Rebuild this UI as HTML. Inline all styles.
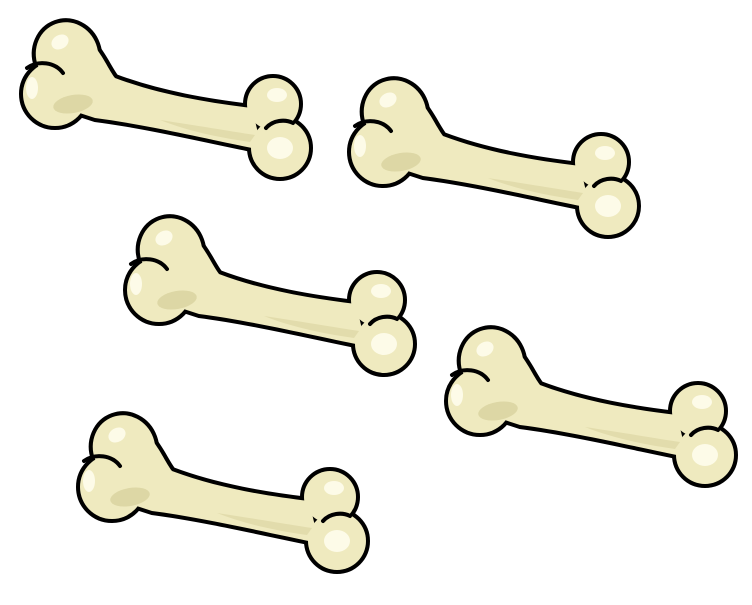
<!DOCTYPE html>
<html><head><meta charset="utf-8"><style>html,body{margin:0;padding:0;background:#fff;width:752px;height:605px;overflow:hidden}</style></head>
<body>
<svg width="752" height="605" viewBox="0 0 752 605">
<defs>
<g id="shape">
  <ellipse cx="67" cy="55" rx="31" ry="33" transform="rotate(-20 67 55)"/>
  <circle cx="55" cy="94" r="32"/>
  <path d="M70,30 C95,35 105,65 115,78 C160,95 210,103 252,108 L262,150 C220,142 150,125 95,118 L55,105 Z"/>
  <circle cx="273" cy="104" r="26"/>
  <circle cx="280" cy="148" r="29"/>
</g>
<g id="bone">
  <use href="#shape" fill="#000" stroke="#000" stroke-width="8" stroke-linejoin="round"/>
  <use href="#shape" fill="#efeabf"/>
  <ellipse cx="73" cy="104" rx="20" ry="9" fill="#ddd7a5" transform="rotate(-10 73 104)"/>
  <path d="M160,120 C200,126 235,132 255,135 L250,142 C215,137 185,130 160,120 Z" fill="#e2dcac"/>
  <path d="M27,68 C38,60 55,62 63,73" fill="none" stroke="#000" stroke-width="4" stroke-linecap="round"/>
  <path d="M266,128 C273,120 285,119 293,123" fill="none" stroke="#000" stroke-width="4" stroke-linecap="round"/>
  <ellipse cx="60" cy="42" rx="9" ry="7" fill="#fdfbe8" transform="rotate(-30 60 42)"/>
  <ellipse cx="32" cy="88" rx="6" ry="11" fill="#fdfbe8"/>
  <ellipse cx="277" cy="95" rx="10" ry="7" fill="#fdfbe8"/>
  <ellipse cx="280" cy="148" rx="13" ry="11" fill="#fdfbe8"/>
</g>
</defs>
<use href="#bone"/>
<use href="#bone" transform="translate(328,58)"/>
<use href="#bone" transform="translate(104,196)"/>
<use href="#bone" transform="translate(425,307)"/>
<use href="#bone" transform="translate(57,393)"/>
</svg>
</body></html>
